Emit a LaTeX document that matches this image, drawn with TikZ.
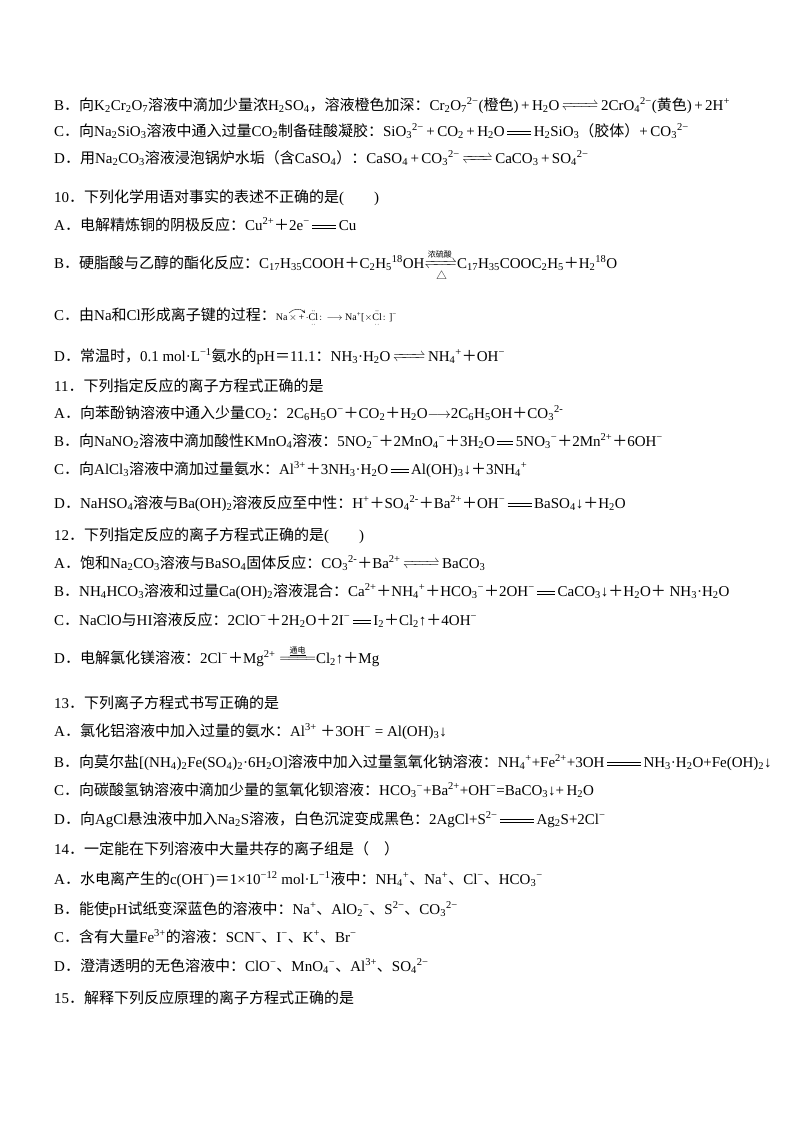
\documentclass[tikz,border=0pt]{standalone}
\usepackage{fontspec}
\usepackage{mathtools}
\setmainfont{Liberation Serif}
\newfontfamily\cjk{Noto Sans CJK SC}
\XeTeXinterchartokenstate=1
\newXeTeXintercharclass\cjkclass
\newcount\cc
\cc="4E00 \loop \XeTeXcharclass\cc=\cjkclass \advance\cc 1 \ifnum\cc<"A000 \repeat
\cc="3000 \loop \XeTeXcharclass\cc=\cjkclass \advance\cc 1 \ifnum\cc<"3040 \repeat
\cc="FF00 \loop \XeTeXcharclass\cc=\cjkclass \advance\cc 1 \ifnum\cc<"FFF0 \repeat
\XeTeXcharclass`△=\cjkclass
\XeTeXinterchartoks 0 \cjkclass = {\begingroup\cjk}
\XeTeXinterchartoks 4095 \cjkclass = {\begingroup\cjk}
\XeTeXinterchartoks \cjkclass 0 = {\endgroup}
\XeTeXinterchartoks \cjkclass 4095 = {\endgroup}
\newcommand\dn[1]{\textsubscript{#1}}
\newcommand\up[1]{\textsuperscript{#1}}
\newcommand\eqa[1][24pt]{\,\raisebox{0.65ex}{\rule{#1}{0.6pt}}\kern-#1\raisebox{0.2ex}{\rule{#1}{0.6pt}}\,}
\newcommand\rev[1][28pt]{\,\raisebox{0.2ex}{$\xrightleftharpoons{\hspace{#1}}$}\,}
\newcommand\lrev[2]{\raisebox{0.2ex}{$\xrightleftharpoons[\text{#2}]{\text{\footnotesize #1}}$}}
\newcommand\larr[1]{\raisebox{0.1ex}{$\overset{\text{\footnotesize\underline{#1}}}{=\!=\!=\!=}$}}
\begin{document}
\begin{tikzpicture}[x=1pt,y=-1pt,line/.style={anchor=base west,inner sep=0pt,font=\fontsize{15}{16}\selectfont}]
\useasboundingbox (0,0) rectangle (800,1132);
\fill[white] (0,0) rectangle (800,1132);
\node[line] (l1) at (54,110) {B．向K\dn2Cr\dn2O\dn7溶液中滴加少量浓H\dn2SO\dn4，溶液橙色加深：Cr\dn2O\dn7\up{2−}(橙色)\,+\,H\dn2O\rev2CrO\dn4\up{2−}(黄色)\,+\,2H\up+};
\node[line] (l2) at (54,136) {C．向Na\dn2SiO\dn3溶液中通入过量CO\dn2制备硅酸凝胶：SiO\dn3\up{2−}\,+\,CO\dn2\,+\,H\dn2O\eqa H\dn2SiO\dn3（胶体）+\,CO\dn3\up{2−}};
\node[line] (l3) at (54,163) {D．用Na\dn2CO\dn3溶液浸泡锅炉水垢（含CaSO\dn4）：CaSO\dn4\,+\,CO\dn3\up{2−}\rev[22pt]CaCO\dn3\,+\,SO\dn4\up{2−}};
\node[line] (q10) at (54,202) {10．下列化学用语对事实的表述不正确的是(\qquad)};
\node[line] (a10) at (54,230) {A．电解精炼铜的阴极反应：Cu\up{2+}＋2e\up{−}\eqa Cu};
\node[line] (b10) at (54,268) {B．硬脂酸与乙醇的酯化反应：C\dn{17}H\dn{35}COOH＋C\dn2H\dn5\up{18}OH\lrev{浓硫酸}{△}C\dn{17}H\dn{35}COOC\dn2H\dn5＋H\dn2\up{18}O};
\node[line] (c10) at (54,320) {C．由Na和Cl形成离子键的过程：{\fontsize{10}{11}\selectfont Na$\,\times\,$+$\,\cdot\ddot{\underset{\cdot\cdot}{\mathrm{Cl}}}\colon\!\longrightarrow$ Na\up+[$\times\ddot{\underset{\cdot\cdot}{\mathrm{Cl}}}\colon$]\up−}};
\draw[->,>=stealth,line width=0.4pt] (289,313) to[bend left=50] (305,313);
\node[line] (d10) at (54,361) {D．常温时，0.1 mol·L\up{−1}氨水的pH＝11.1：NH\dn3·H\dn2O\rev[24pt]NH\dn4\up+＋OH\up−};
\node[line] (q11) at (54,391) {11．下列指定反应的离子方程式正确的是};
\node[line] (a11) at (54,418) {A．向苯酚钠溶液中通入少量CO\dn2：2C\dn6H\dn5O\up−＋CO\dn2＋H\dn2O$\longrightarrow$2C\dn6H\dn5OH＋CO\dn3\up{2-}};
\node[line] (b11) at (54,446) {B．向NaNO\dn2溶液中滴加酸性KMnO\dn4溶液：5NO\dn2\up−＋2MnO\dn4\up−＋3H\dn2O\eqa[16pt]5NO\dn3\up−＋2Mn\up{2+}＋6OH\up−};
\node[line] (c11) at (54,474) {C．向AlCl\dn3溶液中滴加过量氨水：Al\up{3+}＋3NH\dn3·H\dn2O\eqa[18pt]Al(OH)\dn3↓＋3NH\dn4\up+};
\node[line] (d11) at (54,508) {D．NaHSO\dn4溶液与Ba(OH)\dn2溶液反应至中性：H\up+＋SO\dn4\up{2-}＋Ba\up{2+}＋OH\up−\eqa BaSO\dn4↓＋H\dn2O};
\node[line] (q12) at (54,540) {12．下列指定反应的离子方程式正确的是(\qquad)};
\node[line] (a12) at (54,568) {A．饱和Na\dn2CO\dn3溶液与BaSO\dn4固体反应：CO\dn3\up{2-}＋Ba\up{2+}\rev BaCO\dn3};
\node[line] (b12) at (54,596) {B．NH\dn4HCO\dn3溶液和过量Ca(OH)\dn2溶液混合：Ca\up{2+}＋NH\dn4\up+＋HCO\dn3\up−＋2OH\up−\eqa[18pt]CaCO\dn3↓＋H\dn2O＋\ NH\dn3·H\dn2O};
\node[line] (c12) at (54,625) {C．NaClO与HI溶液反应：2ClO\up−＋2H\dn2O＋2I\up−\eqa[18pt]I\dn2＋Cl\dn2↑＋4OH\up−};
\node[line] (d12) at (54,663) {D．电解氯化镁溶液：2Cl\up−＋Mg\up{2+}\ \larr{通电}Cl\dn2↑＋Mg};
\node[line] (q13) at (54,708) {13．下列离子方程式书写正确的是};
\node[line] (a13) at (54,736) {A．氯化铝溶液中加入过量的氨水：Al\up{3+}\ ＋3OH\up−\ = Al(OH)\dn3↓};
\node[line] (b13) at (54,767) {B．向莫尔盐[(NH\dn4)\dn2Fe(SO\dn4)\dn2·6H\dn2O]溶液中加入过量氢氧化钠溶液：NH\dn4\up+{+}Fe\up{2+}{+}3OH\eqa[34pt]NH\dn3·H\dn2O{+}Fe(OH)\dn2↓};
\node[line] (c13) at (54,795) {C．向碳酸氢钠溶液中滴加少量的氢氧化钡溶液：HCO\dn3\up−{+}Ba\up{2+}{+}OH\up−{=}BaCO\dn3↓{+}\,H\dn2O};
\node[line] (d13) at (54,824) {D．向AgCl悬浊液中加入Na\dn2S溶液，白色沉淀变成黑色：2AgCl{+}S\up{2−}\eqa[34pt]Ag\dn2S{+}2Cl\up−};
\node[line] (q14) at (54,854) {14．一定能在下列溶液中大量共存的离子组是（\quad）};
\node[line] (a14) at (54,884) {A．水电离产生的c(OH\up−)＝1×10\up{−12} mol·L\up{−1}液中：NH\dn4\up+、Na\up+、Cl\up−、HCO\dn3\up−};
\node[line] (b14) at (54,914) {B．能使pH试纸变深蓝色的溶液中：Na\up+、AlO\dn2\up−、S\up{2−}、CO\dn3\up{2−}};
\node[line] (c14) at (54,942) {C．含有大量Fe\up{3+}的溶液：SCN\up−、I\up−、K\up+、Br\up−};
\node[line] (d14) at (54,971) {D．澄清透明的无色溶液中：ClO\up−、MnO\dn4\up−、Al\up{3+}、SO\dn4\up{2−}};
\node[line] (q15) at (54,1003) {15．解释下列反应原理的离子方程式正确的是};
\end{tikzpicture}
\end{document}
